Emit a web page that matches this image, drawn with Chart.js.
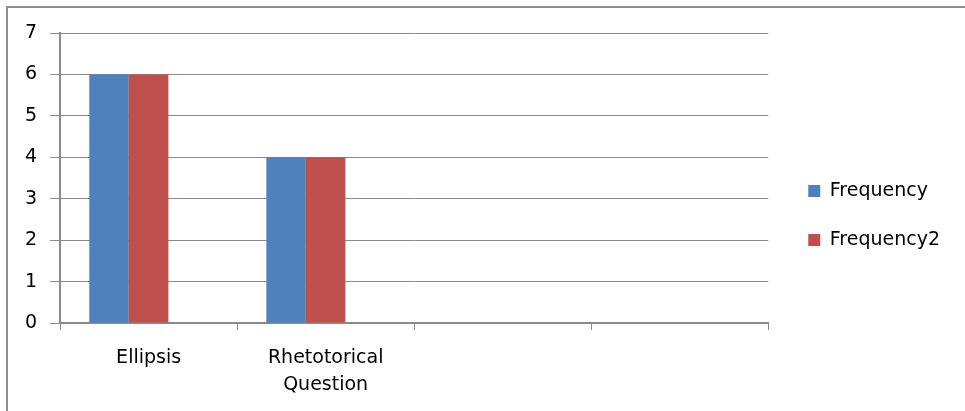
<!DOCTYPE html>
<html>
<head>
<meta charset="utf-8">
<script src="https://cdn.jsdelivr.net/npm/chart.js@4/dist/chart.umd.min.js"></script>
<style>
  html, body { margin: 0; padding: 0; background: #ffffff; }
  #wrap { position: relative; width: 965px; height: 411px; }
  canvas { display: block; }
</style>
</head>
<body>
<div id="wrap"><canvas id="c" width="965" height="411"></canvas></div>
<script>
const categories = [["Ellipsis"], ["Rhetotorical", "Question"], "", ""];
const frequency = [6, 4, null, null];
const frequency2 = [6, 4, null, null];
const emptySeries = [null, null, null, null];
const yTicks = [0, 1, 2, 3, 4, 5, 6, 7];

const GRID = "#8a8a8a";
const FONT = "DejaVu Sans";

const frame = {
  id: "frame",
  beforeDraw(chart) {
    const ctx = chart.ctx;
    ctx.save();
    ctx.strokeStyle = "#8f8f8f";
    ctx.lineWidth = 2;
    ctx.beginPath();
    ctx.moveTo(7, 420);
    ctx.lineTo(7, 7);
    ctx.lineTo(970, 7);
    ctx.stroke();
    ctx.restore();
  }
};

new Chart(document.getElementById("c"), {
  type: "bar",
  data: {
    labels: categories,
    datasets: [
      { label: "Frequency", data: frequency, backgroundColor: "#4F81BD", borderWidth: 0 },
      { label: "Frequency2", data: frequency2, backgroundColor: "#C0504D", borderWidth: 0 },
      { label: "", data: emptySeries, backgroundColor: "#9BBB59", borderWidth: 0 }
    ]
  },
  options: {
    responsive: false,
    animation: false,
    devicePixelRatio: 1,
    layout: { padding: { left: 12, top: 17, right: 15, bottom: -3 } },
    datasets: { bar: { categoryPercentage: 0.67, barPercentage: 1 } },
    plugins: {
      tooltip: { enabled: false },
      legend: {
        position: "right",
        labels: {
          boxWidth: 12,
          boxHeight: 12,
          padding: 30,
          color: "#000",
          font: { family: FONT, size: 19 },
          filter: (item) => item.text !== ""
        }
      }
    },
    scales: {
      x: {
        offset: true,
        grid: { offset: true, drawOnChartArea: false, drawTicks: true, tickLength: 7, color: GRID, lineWidth: 1 },
        border: { display: true, color: GRID, width: 2 },
        ticks: { color: "#000", font: { family: FONT, size: 19, lineHeight: 1.42 }, padding: 15, maxRotation: 0, autoSkip: false }
      },
      y: {
        min: 0,
        max: 7,
        afterBuildTicks: (s) => { s.ticks = yTicks.map(v => ({ value: v })); },
        grid: { color: GRID, lineWidth: 1, tickLength: 10 },
        border: { display: true, color: GRID, width: 2 },
        ticks: { color: "#000", font: { family: FONT, size: 19 }, padding: 13 }
      },
      padRight: {
        type: "linear",
        position: "right",
        display: false,
        afterFit: (s) => { s.width = 10; }
      },
      padTop: {
        type: "category",
        position: "top",
        display: false,
        afterFit: (s) => { s.height = 16; }
      }
    }
  },
  plugins: [frame]
});
</script>
</body>
</html>
